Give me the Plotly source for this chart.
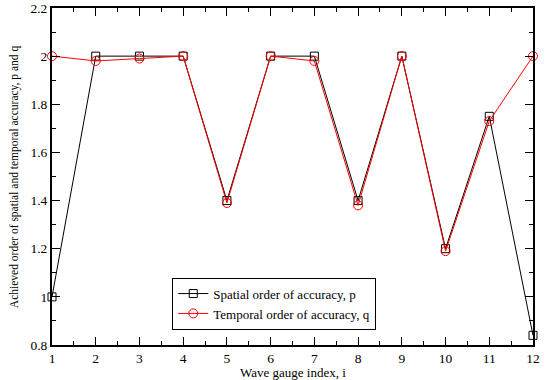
import plotly.graph_objects as go

gauge_index = [1, 2, 3, 4, 5, 6, 7, 8, 9, 10, 11, 12]
spatial_p = [1.0, 2.0, 2.0, 2.0, 1.4, 2.0, 2.0, 1.4, 2.0, 1.2, 1.75, 0.84]
temporal_q = [2.0, 1.98, 1.99, 2.0, 1.39, 2.0, 1.98, 1.38, 2.0, 1.19, 1.73, 2.0]

font_family = "Liberation Serif"

fig = go.Figure()
fig.add_trace(go.Scatter(
    x=gauge_index, y=spatial_p, mode="lines+markers",
    name="Spatial order of accuracy, p",
    line=dict(color="black", width=1),
    marker=dict(symbol="square-open", size=8, color="black", line=dict(width=1)),
    cliponaxis=False,
))
fig.add_trace(go.Scatter(
    x=gauge_index, y=temporal_q, mode="lines+markers",
    name="Temporal order of accuracy, q",
    line=dict(color="#ff0000", width=1),
    marker=dict(symbol="circle-open", size=9, color="#ff0000", line=dict(width=1)),
    cliponaxis=False,
))

axis_common = dict(
    showline=True, linecolor="black", linewidth=2, mirror="ticks",
    ticks="inside", ticklen=8, tickwidth=1, tickcolor="black",
    showgrid=False, zeroline=False, automargin=False,
    tickfont=dict(family=font_family, size=13.5, color="black"),
)

fig.update_layout(
    width=547, height=380,
    margin=dict(l=52, r=14, t=8, b=35),
    paper_bgcolor="white", plot_bgcolor="white",
    font=dict(family=font_family, color="black"),
    xaxis=dict(
        range=[1, 12], tickmode="linear", tick0=1, dtick=1,
        minor=dict(ticks="inside", ticklen=4, tickcolor="black", dtick=0.5, tick0=1, showgrid=False),
        **axis_common,
    ),
    yaxis=dict(
        range=[0.8, 2.2], tickmode="linear", tick0=0.8, dtick=0.2, tickformat="~g",
        minor=dict(ticks="inside", ticklen=4, tickcolor="black", dtick=0.1, tick0=0.8, showgrid=False),
        **axis_common,
    ),
    legend=dict(
        x=0.25, y=0.2, xanchor="left", yanchor="top",
        bgcolor="white", bordercolor="black", borderwidth=1,
        font=dict(family=font_family, size=13, color="black"),
        itemwidth=30, tracegroupgap=0,
    ),
    showlegend=True,
    annotations=[
        dict(text="Wave gauge index, i", xref="paper", yref="paper",
             x=0.5, y=-0.054, xanchor="center", yanchor="top", showarrow=False,
             font=dict(family=font_family, size=13, color="black")),
        dict(text="Achieved order of spatial and temporal accuracy, p and q",
             xref="paper", yref="paper", x=-0.06, y=0.5, textangle=-90,
             xanchor="right", yanchor="middle", showarrow=False,
             font=dict(family=font_family, size=11.5, color="black")),
    ],
)

fig.write_html("out.html")
